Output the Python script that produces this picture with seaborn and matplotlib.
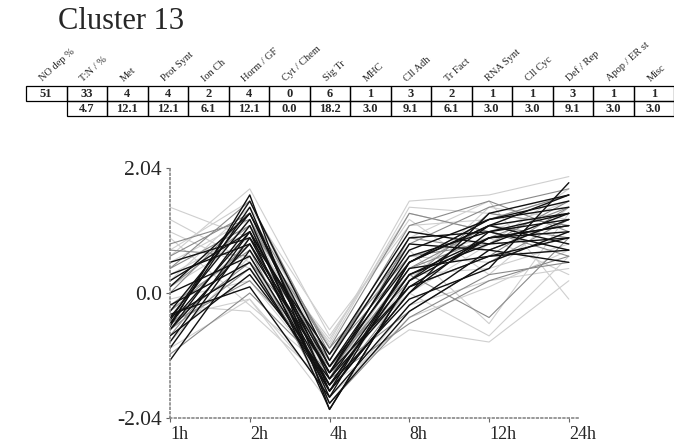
import matplotlib
matplotlib.use('Agg')
import matplotlib.pyplot as plt
from matplotlib.patches import Rectangle
import pandas as pd
import seaborn as sns

# time points
times = ['1h', '2h', '4h', '8h', '12h', '24h']

# functional category table
categories = ['NO dep %', 'T:N / %', 'Met', 'Prot Synt', 'Ion Ch', 'Horm / GF',
              'Cyt / Chem', 'Sig Tr', 'MHC', 'Cll Adh', 'Tr Fact', 'RNA Synt',
              'Cll Cyc', 'Def / Rep', 'Apop / ER st', 'Misc']
counts = [51, 33, 4, 4, 2, 4, 0, 6, 1, 3, 2, 1, 1, 3, 1, 1]
percents = ['4.7', '12.1', '12.1', '6.1', '12.1', '0.0', '18.2', '3.0',
            '9.1', '6.1', '3.0', '3.0', '9.1', '3.0', '3.0']

# expression profiles
light_profiles = [
    [1.4, 0.9, -0.8, 1.5, 1.6, 1.9],
    [0.9, -0.2, -1.3, 0.0, -0.7, 0.6],
    [-0.2, -0.3, -1.5, -0.6, -0.8, 0.2],
    [0.6, 1.7, -0.7, 1.2, 0.3, 1.4],
    [1.0, 0.4, -1.1, 0.9, 1.5, -0.1],
    [-0.4, -0.1, -1.6, 0.3, 0.4, 0.8],
    [0.3, 1.0, -1.0, 0.7, -0.5, 1.3],
    [-0.8, 0.6, -1.7, -0.4, 0.1, 0.7],
    [0.2, 1.4, -0.6, 1.1, 1.2, 1.6],
    [-0.1, 0.2, -1.4, 0.6, 0.9, 0.3],
    [0.5, 1.2, -0.85, 1.4, 1.3, 1.1],
    [0.7, 1.5, -1.2, 0.0, 0.8, 1.7],
    [-0.9, -0.1, -1.8, -0.2, 0.2, 0.4],
    [0.1, 0.9, -0.75, 1.3, 1.0, 1.5],
    [1.2, 0.5, -1.4, 0.6, 0.5, 1.0],
    [-0.3, 1.2, -1.5, 0.2, 1.4, 1.2],
]
mid_profiles = [
    [0.8, 1.2, -1.2, 0.2, 1.3, 1.1],
    [0.6, 1.3, -0.9, 1.3, 1.0, 0.6],
    [-0.6, 0.4, -1.4, -0.5, 0.2, 0.6],
    [0.4, 1.5, -1.0, 0.8, 1.4, 1.7],
    [-1.0, 0.0, -1.3, -0.3, 0.5, 1.2],
    [0.1, 1.1, -0.9, 0.6, 0.8, 1.5],
    [-0.3, 0.8, -1.1, 1.1, 1.5, 1.0],
    [0.7, 0.6, -1.5, 0.4, 0.9, 1.4],
    [-0.5, 0.2, -1.2, 0.3, -0.4, 0.9],
    [-0.7, 0.9, -1.6, 0.1, 0.6, 1.4],
    [0.0, 1.3, -1.3, 0.4, 1.1, 0.9],
    [-0.2, 0.7, -1.8, -0.4, 0.3, 0.5],
    [0.4, 1.1, -1.4, 0.9, 0.7, 1.2],
    [-0.5, 0.5, -1.0, 0.5, 1.2, 1.6],
]
dark_profiles = [
    [-0.55, 1.6, -1.9, 0.2, 1.1, 1.3],
    [-0.5, 1.4, -1.6, 0.5, 1.2, 1.5],
    [-0.3, 1.3, -1.4, 0.1, 0.9, 1.1],
    [-0.6, 1.1, -1.7, -0.2, 0.7, 1.2],
    [-0.9, 0.9, -1.5, 0.3, 0.8, 0.9],
    [-1.1, 0.7, -1.3, 0.6, 1.0, 0.7],
    [-0.4, 1.2, -1.8, -0.3, 0.5, 1.0],
    [0.2, 1.0, -1.2, 0.7, 1.2, 1.4],
    [0.3, 0.8, -1.3, 0.8, 0.7, 0.5],
    [-0.2, 0.5, -1.6, 0.0, 1.3, 1.6],
    [-0.7, 0.3, -1.4, 0.4, 0.6, 0.9],
    [-0.45, 1.5, -1.1, 0.9, 1.0, 1.2],
    [0.0, 0.6, -1.5, -0.1, 0.4, 1.8],
    [-0.8, 1.0, -1.9, 0.2, 0.9, 1.0],
    [0.5, 0.9, -1.0, 1.0, 0.8, 1.3],
    [-0.35, 0.1, -1.7, 0.5, 1.1, 0.8],
    [-0.6, 0.8, -1.6, 0.0, 1.0, 1.3],
    [-0.4, 0.4, -1.5, 0.3, 0.9, 1.1],
    [0.1, 1.3, -1.2, 0.5, 1.1, 1.6],
    [-0.5, 1.0, -1.3, 0.1, 0.6, 0.7],
]
groups = [(light_profiles, '#cfcfcf', 0.8),
          (mid_profiles, '#8a8a8a', 0.8),
          (dark_profiles, '#111111', 1.0)]

sns.set_style('white')
plt.rcParams['font.family'] = ['Liberation Serif', 'DejaVu Serif']

fig = plt.figure(figsize=(6.74, 4.42), dpi=100)
fig.text(58 / 674, 1 - 29 / 442, 'Cluster 13', fontsize=22, va='baseline')

# table
tab = fig.add_axes([26 / 674, 1 - 116 / 442, 648 / 674, 30 / 442])
tab.set_xlim(0, 16)
tab.set_ylim(2, 0)
tab.axis('off')
for i, (lab, c) in enumerate(zip(categories, counts)):
    tab.add_patch(Rectangle((i, 0), 1, 1, fill=False, lw=0.9, ec='black', clip_on=False))
    tab.text(i + 0.5, 0.52, str(c), ha='center', va='center', fontsize=9, fontweight='bold')
    tab.text(i + 0.45, -0.2, lab, rotation=42, rotation_mode='anchor',
             ha='left', va='bottom', fontsize=7.5)
for i, p in enumerate(percents):
    tab.add_patch(Rectangle((i + 1, 1), 1, 1, fill=False, lw=0.9, ec='black', clip_on=False))
    tab.text(i + 1.5, 1.52, p, ha='center', va='center', fontsize=9, fontweight='bold')

# profiles
ax = fig.add_axes([170 / 674, 1 - 418 / 442, 410 / 674, 250 / 442])
gid = 0
for profs, col, lw in groups:
    rows = []
    for prof in profs:
        for t, v in zip(times, prof):
            rows.append({'gene': gid, 'time': t, 'value': v})
        gid += 1
    df = pd.DataFrame(rows)
    sns.lineplot(data=df, x='time', y='value', units='gene', estimator=None,
                 color=col, lw=lw, ax=ax, sort=False)
ax.set_xlim(0, 5.14)
ax.set_ylim(-2.04, 2.04)
ax.set_yticks([-2.04, 0, 2.04])
ax.set_yticklabels(['-2.04', '0.0', '2.04'], fontsize=15.5)
ax.set_xticks(range(len(times)))
ax.set_xticklabels(times, fontsize=13, ha='left')
ax.set_xlabel('')
ax.set_ylabel('')
for s in ['top', 'right']:
    ax.spines[s].set_visible(False)
for s in ['left', 'bottom']:
    ax.spines[s].set_color('#888888')
    ax.spines[s].set_linestyle(':')
    ax.spines[s].set_linewidth(1.2)
ax.tick_params(axis='both', length=3, width=0.8, color='#666666', pad=3, direction='out')
ax.tick_params(axis='both', which='both', bottom=True, left=True)

fig.savefig('out.png', dpi=100)
